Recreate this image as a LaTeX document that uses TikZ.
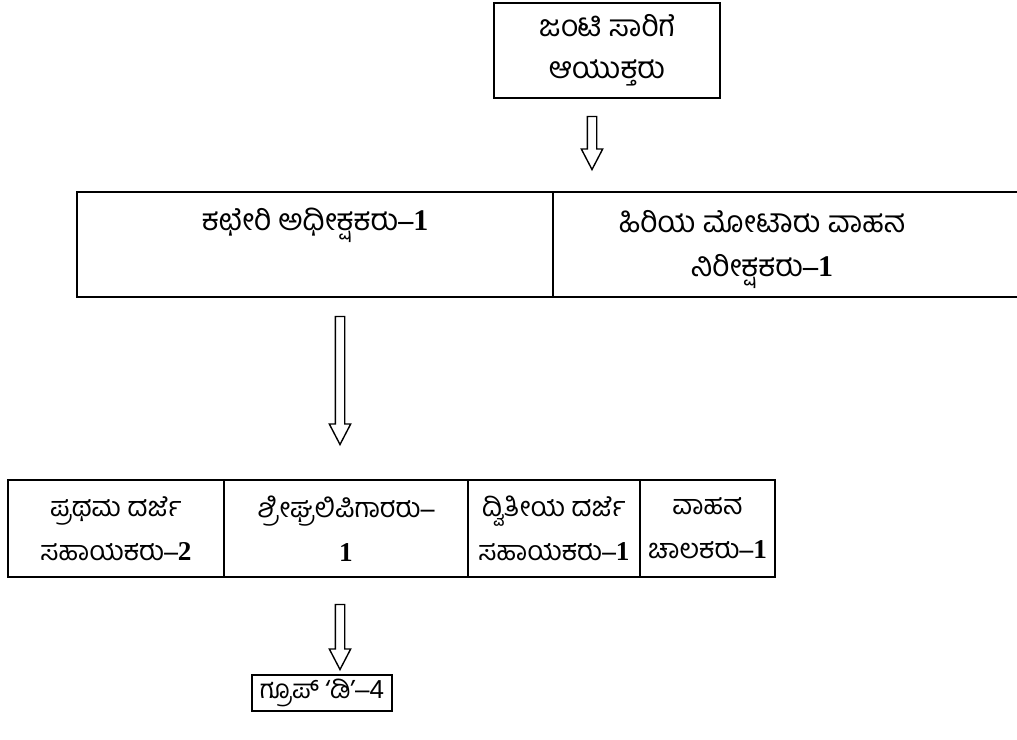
\documentclass[tikz,border=0pt]{standalone}
\usepackage{fontspec}
\usetikzlibrary{positioning,shapes.arrows}
\newfontfamily\kn[Script=Kannada]{Hind Mysuru}
\newfontfamily\sr{Liberation Serif}
\newfontfamily\ssf{Liberation Sans}
\newcommand{\nm}[1]{{\sr\bfseries #1}}

\begin{document}
\begin{tikzpicture}[x=0.5pt,y=-0.5pt,
	box/.style={draw,line width=0.7pt,inner sep=0pt,outer sep=0pt,align=center,font=\kn\fontsize{15}{21}\selectfont},
	cell/.style={box,minimum height=48.5pt,font=\kn\fontsize{13.6}{22}\selectfont},
	txt/.style={inner sep=0pt,align=center,font=\kn\fontsize{15}{22}\selectfont},
	down/.style={draw,line width=0.7pt,shape=single arrow,shape border rotate=270,inner sep=2pt,single arrow head extend=3pt,single arrow tip angle=55,minimum height=#1}]
		\useasboundingbox (0,0) rectangle (1017,739);

		\node[box,minimum width=113pt,minimum height=47.5pt]	(jc)	at (607,50.5)	{ಜಂಟಿ ಸಾರಿಗೆ\\ಆಯುಕ್ತರು};
		\node[down=26.5pt]										(a1)	at (592,138.5)	{};

		\node[box,minimum width=238pt,minimum height=52.5pt]	(sup)	at (315,244.5)	{};
		\node[txt,below=8pt of sup.north]						(supt)			{ಕಛೇರಿ ಅಧೀಕ್ಷಕರು\nm{–1}};
		\coordinate												(edge)	at (1017,244.5);
		\node[txt]												(mvi)	at (762,249)	{ಹಿರಿಯ ಮೋಟಾರು ವಾಹನ\\ನಿರೀಕ್ಷಕರು\nm{–1}};
		\draw[line width=0.7pt] (sup.north east) -- (sup.north east -| edge);
		\draw[line width=0.7pt] (sup.south east) -- (sup.south east -| edge);

		\node[down=64pt]										(a2)	at (340,376)	{};

		\node[cell,minimum width=108pt]					(c1)	at (116,528.5)	{ಪ್ರಥಮ ದರ್ಜೆ\\ಸಹಾಯಕರು\nm{–2}};
		\node[cell,minimum width=122pt,right=0pt of c1]	(c2)	{ಶ್ರೀಘ್ರಲಿಪಿಗಾರರು\nm{–}\\\nm{1}};
		\node[cell,minimum width=86pt,right=0pt of c2]	(c3)	{ದ್ವಿತೀಯ ದರ್ಜೆ\\ಸಹಾಯಕರು\nm{–1}};
		\node[cell,minimum width=67.5pt,right=0pt of c3]	(c4)	{ವಾಹನ\\ಚಾಲಕರು\nm{–1}};

		\node[down=32.5pt]										(a3)	at (340,632.5)	{};
		\node[box,inner xsep=4pt,minimum height=18pt,font=\kn\fontsize{13}{16}\selectfont]	(gd)	at (322,693)	{ಗ್ರೂಪ್ ‘ಡಿ’{\ssf –4}};
	\end{tikzpicture}
\end{document}
